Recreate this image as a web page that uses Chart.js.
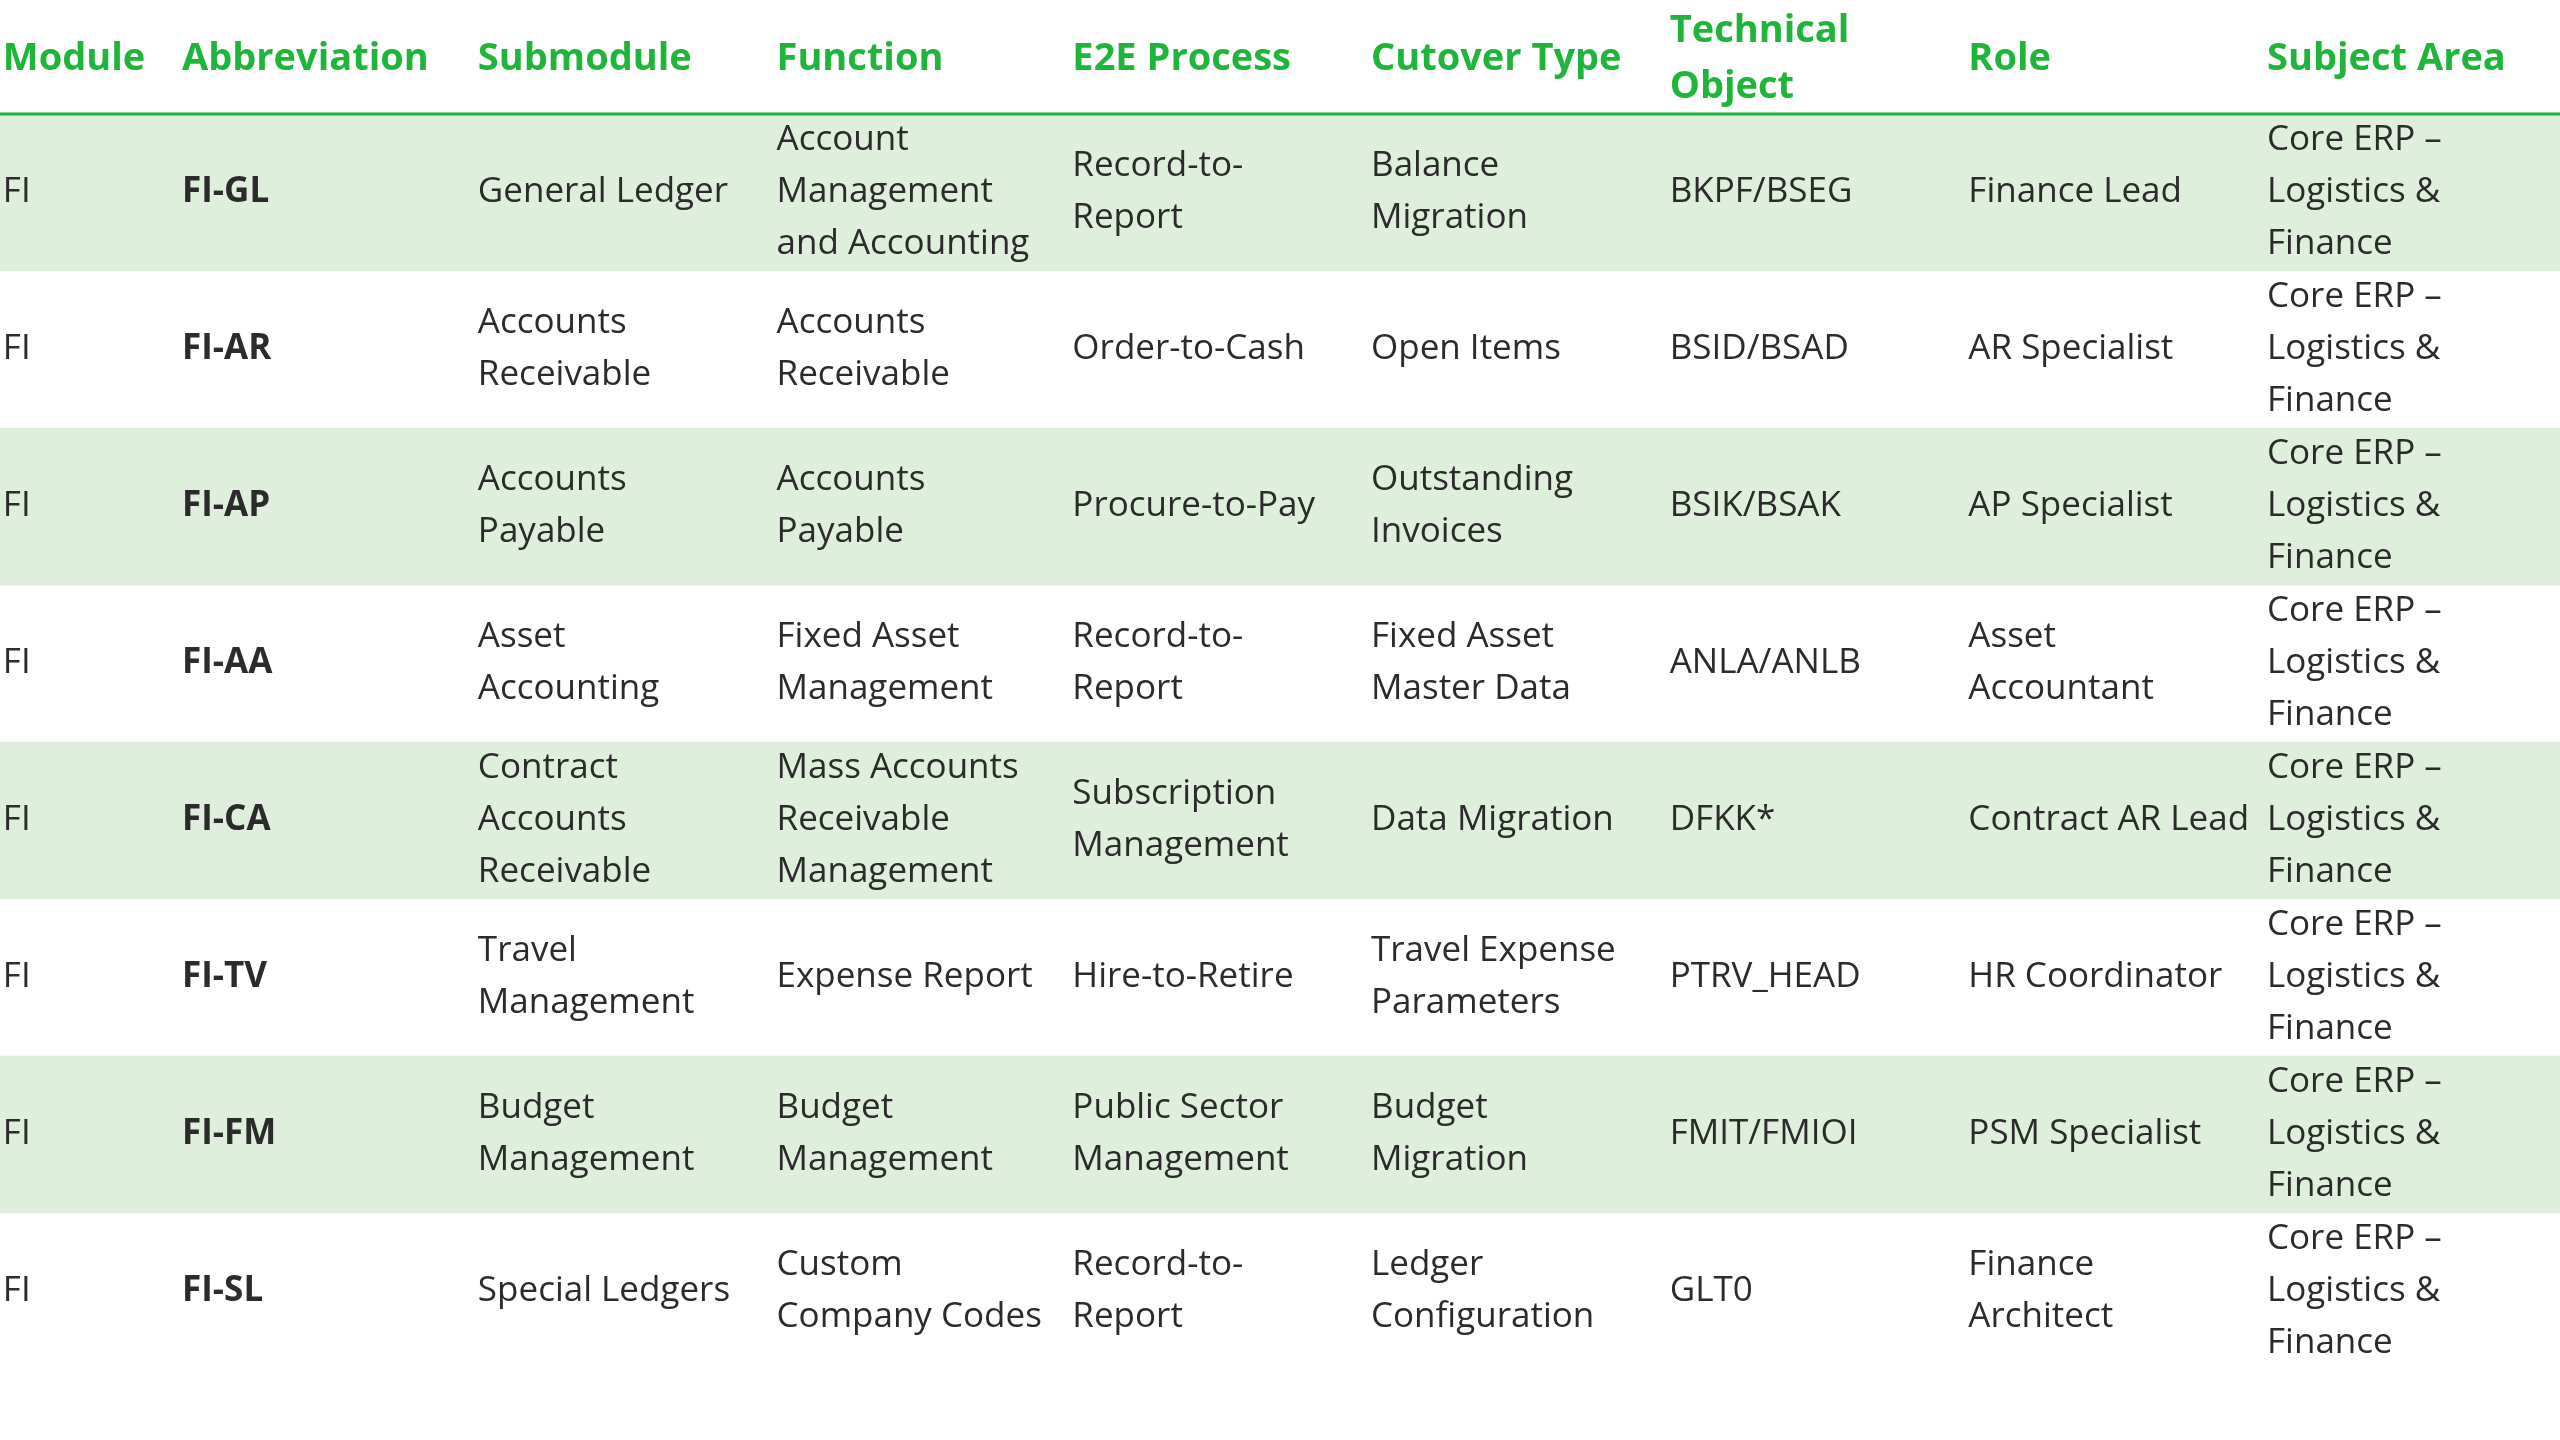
<!DOCTYPE html>
<html>
<head>
<meta charset="utf-8">
<script src="https://cdn.jsdelivr.net/npm/chart.js@4"></script>
<style>
  html, body { margin: 0; padding: 0; background: #fff; }
  #wrap { width: 2560px; height: 1440px; }
</style>
</head>
<body>
<div id="wrap"><canvas id="tbl"></canvas></div>
<script>
// table content
const headers = ['Module', 'Abbreviation', 'Submodule', 'Function', 'E2E Process', 'Cutover Type', 'Technical\nObject', 'Role', 'Subject Area'];
const modules = ['FI', 'FI', 'FI', 'FI', 'FI', 'FI', 'FI', 'FI'];
const abbreviations = ['FI-GL', 'FI-AR', 'FI-AP', 'FI-AA', 'FI-CA', 'FI-TV', 'FI-FM', 'FI-SL'];
const submodules = ['General Ledger', 'Accounts\nReceivable', 'Accounts\nPayable', 'Asset\nAccounting', 'Contract\nAccounts\nReceivable', 'Travel\nManagement', 'Budget\nManagement', 'Special Ledgers'];
const functions = ['Account\nManagement\nand Accounting', 'Accounts\nReceivable', 'Accounts\nPayable', 'Fixed Asset\nManagement', 'Mass Accounts\nReceivable\nManagement', 'Expense Report', 'Budget\nManagement', 'Custom\nCompany Codes'];
const e2eProcesses = ['Record-to-\nReport', 'Order-to-Cash', 'Procure-to-Pay', 'Record-to-\nReport', 'Subscription\nManagement', 'Hire-to-Retire', 'Public Sector\nManagement', 'Record-to-\nReport'];
const cutoverTypes = ['Balance\nMigration', 'Open Items', 'Outstanding\nInvoices', 'Fixed Asset\nMaster Data', 'Data Migration', 'Travel Expense\nParameters', 'Budget\nMigration', 'Ledger\nConfiguration'];
const technicalObjects = ['BKPF/BSEG', 'BSID/BSAD', 'BSIK/BSAK', 'ANLA/ANLB', 'DFKK*', 'PTRV_HEAD', 'FMIT/FMIOI', 'GLT0'];
const roles = ['Finance Lead', 'AR Specialist', 'AP Specialist', 'Asset\nAccountant', 'Contract AR Lead', 'HR Coordinator', 'PSM Specialist', 'Finance\nArchitect'];
const subjectAreas = Array(8).fill('Core ERP \u2013\nLogistics &\nFinance');

const columns = [modules, abbreviations, submodules, functions, e2eProcesses, cutoverTypes, technicalObjects, roles, subjectAreas];
// striped rows get a full-width floating bar
const stripe = abbreviations.map((a, i) => i % 2 === 0 ? [0, 9] : null);

// column left edges in x-scale units (0..9)
const colStart = [0.01, 0.64, 1.68, 2.73, 3.77, 4.82, 5.87, 6.92, 7.97];
const GREEN = '#1fb53a';

const tablePlugin = {
  id: 'tableText',
  afterDatasetsDraw(chart) {
    const { ctx, scales: { x, y }, chartArea } = chart;
    ctx.save();
    ctx.textBaseline = 'middle';
    ctx.textAlign = 'left';

    // header
    ctx.fillStyle = GREEN;
    ctx.font = 'bold 38px "Open Sans"';
    const headMid = chartArea.top / 2 + 2;
    headers.forEach((h, c) => {
      const lines = h.split('\n');
      lines.forEach((ln, k) => {
        ctx.fillText(ln, x.getPixelForValue(colStart[c]), headMid + (k - (lines.length - 1) / 2) * 56);
      });
    });
    ctx.strokeStyle = GREEN;
    ctx.lineWidth = 3;
    ctx.beginPath();
    ctx.moveTo(chartArea.left, chartArea.top);
    ctx.lineTo(chartArea.right, chartArea.top);
    ctx.stroke();

    // body
    ctx.fillStyle = '#2b2b2b';
    columns.forEach((col, c) => {
      ctx.font = (c === 1 ? 'bold ' : '') + '35px "Open Sans"';
      col.forEach((txt, r) => {
        const cy = y.getPixelForValue(r);
        const lines = txt.split('\n');
        lines.forEach((ln, k) => {
          ctx.fillText(ln, x.getPixelForValue(colStart[c]), cy + (k - (lines.length - 1) / 2) * 52);
        });
      });
    });
    ctx.restore();
  }
};

new Chart(document.getElementById('tbl'), {
  type: 'bar',
  data: {
    labels: abbreviations,
    datasets: [{
      data: stripe,
      backgroundColor: '#deefdb',
      borderWidth: 0,
      barPercentage: 1,
      categoryPercentage: 1
    }]
  },
  options: {
    indexAxis: 'y',
    responsive: true,
    maintainAspectRatio: false,
    animation: false,
    layout: { padding: { top: 114, bottom: 70, left: 0, right: 0 } },
    scales: {
      x: { type: 'linear', min: 0, max: 9, display: false },
      y: { display: false }
    },
    plugins: { legend: { display: false }, tooltip: { enabled: false } }
  },
  plugins: [tablePlugin]
});
</script>
</body>
</html>
